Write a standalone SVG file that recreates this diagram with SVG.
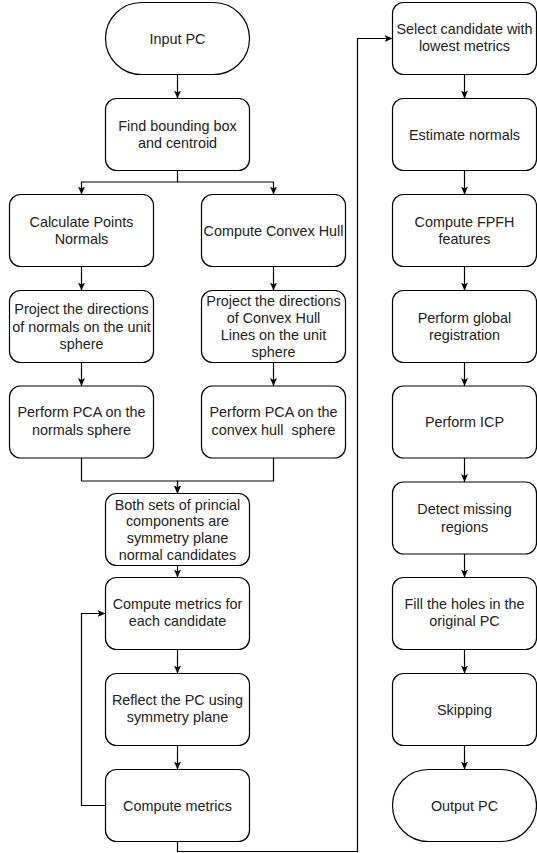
<svg xmlns="http://www.w3.org/2000/svg" width="537" height="853" viewBox="0 0 537 853">
<style>
.box{fill:#fff;stroke:#000;stroke-width:1.2}
.lbl{font-family:"Liberation Sans",Arial,sans-serif;font-size:14.4px;fill:#222;text-anchor:middle;white-space:pre}
.edge{fill:none;stroke:#000;stroke-width:1.2}
</style>
<defs>
<marker id="arr" markerUnits="userSpaceOnUse" viewBox="0 0 8 8" refX="8" refY="4" markerWidth="8" markerHeight="8" orient="auto">
<path d="M0,0.5 L8,4 L0,7.5 L2,4 z" fill="#000"/>
</marker>
</defs>
<rect width="537" height="853" fill="#fff"/>
<g id="connectors">
<path class="edge" marker-end="url(#arr)" d="M177.5,74.5 V98.5"/>
<path class="edge" marker-end="url(#arr)" d="M177.5,170.5 V182 H81.5 V194.5"/>
<path class="edge" marker-end="url(#arr)" d="M177.5,182 H273.5 V194.5"/>
<path class="edge" marker-end="url(#arr)" d="M81.5,266.5 V290.5"/>
<path class="edge" marker-end="url(#arr)" d="M81.5,362.5 V386"/>
<path class="edge" marker-end="url(#arr)" d="M273.5,266.5 V290.5"/>
<path class="edge" marker-end="url(#arr)" d="M273.5,362.5 V386"/>
<path class="edge" marker-end="url(#arr)" d="M81.5,458 V481 H177.5 V493.5"/>
<path class="edge" marker-end="url(#arr)" d="M273.5,458 V481 H177.5 V493.5"/>
<path class="edge" marker-end="url(#arr)" d="M177.5,565.5 V577.5"/>
<path class="edge" marker-end="url(#arr)" d="M177.5,649.5 V673.5"/>
<path class="edge" marker-end="url(#arr)" d="M177.5,745.5 V769.5"/>
<path class="edge" marker-end="url(#arr)" d="M105.5,805.5 H81.5 V613.5 H105.5"/>
<path class="edge" marker-end="url(#arr)" d="M177.5,841.5 V851.5 H357.5 V38.5 H392.5"/>
<path class="edge" marker-end="url(#arr)" d="M464.5,74.5 V98.5"/>
<path class="edge" marker-end="url(#arr)" d="M464.5,170.5 V194.5"/>
<path class="edge" marker-end="url(#arr)" d="M464.5,266.5 V290.5"/>
<path class="edge" marker-end="url(#arr)" d="M464.5,362.5 V386"/>
<path class="edge" marker-end="url(#arr)" d="M464.5,458 V482"/>
<path class="edge" marker-end="url(#arr)" d="M464.5,554 V577.5"/>
<path class="edge" marker-end="url(#arr)" d="M464.5,649.5 V673.5"/>
<path class="edge" marker-end="url(#arr)" d="M464.5,745.5 V769.5"/>
</g>
<g id="input-pc"><rect class="box" x="105.5" y="2.5" width="144" height="72" rx="36"/><text class="lbl" x="177.5" y="43.5">Input PC</text></g>
<g id="bbox"><rect class="box" x="105.5" y="98.5" width="144" height="72" rx="11"/><text class="lbl" x="177.5" y="130.85">Find bounding box</text><text class="lbl" x="177.5" y="148.15">and centroid</text></g>
<g id="calc-normals"><rect class="box" x="9.5" y="194.5" width="144" height="72" rx="11"/><text class="lbl" x="81.5" y="226.85">Calculate Points</text><text class="lbl" x="81.5" y="244.15">Normals</text></g>
<g id="convex-hull"><rect class="box" x="201.5" y="194.5" width="144" height="72" rx="11"/><text class="lbl" x="273.5" y="235.5">Compute Convex Hull</text></g>
<g id="project-normals"><rect class="box" x="9.5" y="290.5" width="144" height="72" rx="11"/><text class="lbl" x="81.5" y="314.2">Project the directions</text><text class="lbl" x="81.5" y="331.5">of normals on the unit</text><text class="lbl" x="81.5" y="348.8">sphere</text></g>
<g id="project-hull"><rect class="box" x="201.5" y="290.5" width="144" height="72" rx="11"/><text class="lbl" x="273.5" y="305.55">Project the directions</text><text class="lbl" x="273.5" y="322.85">of Convex Hull</text><text class="lbl" x="273.5" y="340.15">Lines on the unit</text><text class="lbl" x="273.5" y="357.45">sphere</text></g>
<g id="pca-normals"><rect class="box" x="9.5" y="386" width="144" height="72" rx="11"/><text class="lbl" x="81.5" y="417.35">Perform PCA on the</text><text class="lbl" x="81.5" y="434.65">normals sphere</text></g>
<g id="pca-hull"><rect class="box" x="201.5" y="386" width="144" height="72" rx="11"/><text class="lbl" x="273.5" y="417.35">Perform PCA on the</text><text class="lbl" x="273.5" y="434.65">convex hull  sphere</text></g>
<g id="candidates"><rect class="box" x="105.5" y="493.5" width="144" height="72" rx="11"/><text class="lbl" x="177.5" y="509.5">Both sets of princial</text><text class="lbl" x="177.5" y="526.3">components are</text><text class="lbl" x="177.5" y="543.1">symmetry plane</text><text class="lbl" x="177.5" y="559.9">normal candidates</text></g>
<g id="metrics-each"><rect class="box" x="105.5" y="577.5" width="144" height="72" rx="11"/><text class="lbl" x="177.5" y="608.85">Compute metrics for</text><text class="lbl" x="177.5" y="626.15">each candidate</text></g>
<g id="reflect"><rect class="box" x="105.5" y="673.5" width="144" height="72" rx="11"/><text class="lbl" x="177.5" y="704.85">Reflect the PC using</text><text class="lbl" x="177.5" y="722.15">symmetry plane</text></g>
<g id="metrics"><rect class="box" x="105.5" y="769.5" width="144" height="72" rx="11"/><text class="lbl" x="177.5" y="810.5">Compute metrics</text></g>
<g id="select"><rect class="box" x="392.5" y="2.5" width="144" height="72" rx="11"/><text class="lbl" x="464.5" y="33.85">Select candidate with</text><text class="lbl" x="464.5" y="51.15">lowest metrics</text></g>
<g id="estimate"><rect class="box" x="392.5" y="98.5" width="144" height="72" rx="11"/><text class="lbl" x="464.5" y="139.5">Estimate normals</text></g>
<g id="fpfh"><rect class="box" x="392.5" y="194.5" width="144" height="72" rx="11"/><text class="lbl" x="464.5" y="226.85">Compute FPFH</text><text class="lbl" x="464.5" y="244.15">features</text></g>
<g id="global-reg"><rect class="box" x="392.5" y="290.5" width="144" height="72" rx="11"/><text class="lbl" x="464.5" y="322.85">Perform global</text><text class="lbl" x="464.5" y="340.15">registration</text></g>
<g id="icp"><rect class="box" x="392.5" y="386" width="144" height="72" rx="11"/><text class="lbl" x="464.5" y="427">Perform ICP</text></g>
<g id="detect"><rect class="box" x="392.5" y="482" width="144" height="72" rx="11"/><text class="lbl" x="464.5" y="514.35">Detect missing</text><text class="lbl" x="464.5" y="531.65">regions</text></g>
<g id="fill"><rect class="box" x="392.5" y="577.5" width="144" height="72" rx="11"/><text class="lbl" x="464.5" y="608.85">Fill the holes in the</text><text class="lbl" x="464.5" y="626.15">original PC</text></g>
<g id="skipping"><rect class="box" x="392.5" y="673.5" width="144" height="72" rx="11"/><text class="lbl" x="464.5" y="714.5">Skipping</text></g>
<g id="output-pc"><rect class="box" x="392.5" y="769.5" width="144" height="72" rx="36"/><text class="lbl" x="464.5" y="810.5">Output PC</text></g>
</svg>
